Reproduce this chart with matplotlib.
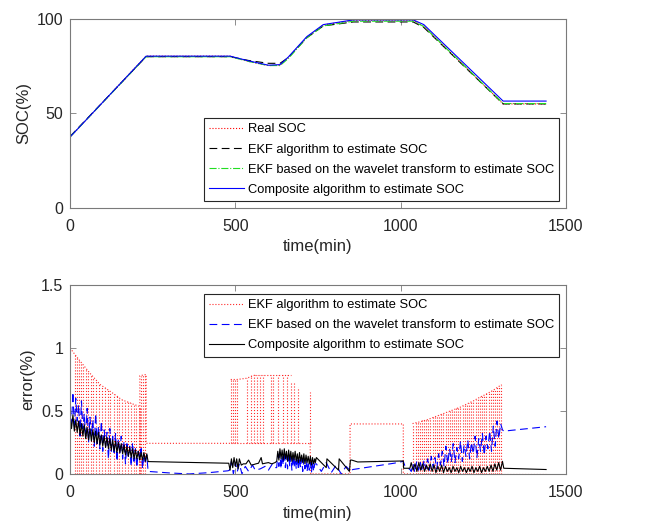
import numpy as np
import matplotlib
matplotlib.use("Agg")
import matplotlib.pyplot as plt

plt.rcParams['font.family'] = ['Liberation Sans', 'DejaVu Sans']

# ---------------- top panel data (SOC, %) ----------------
t_soc = [0, 230, 484, 540, 600, 635, 660, 716, 766, 857, 1038, 1070, 1310, 1440]
soc_real = [37.5, 80.3, 80.3, 77.5, 75.3, 75.5, 79.5, 90.3, 96.8, 99.3, 99.3, 96.0, 55.0, 55.0]
soc_ekf = [37.8, 80.0, 80.0, 78.0, 76.5, 76.5, 79.5, 90.0, 96.3, 98.4, 98.4, 95.5, 55.0, 55.0]
soc_wav = [37.5, 80.0, 80.0, 77.5, 75.3, 75.3, 79.0, 90.0, 96.3, 98.8, 98.8, 96.0, 55.2, 55.2]
soc_comp = [37.5, 80.3, 80.3, 77.8, 75.5, 75.8, 79.8, 90.6, 97.0, 99.5, 99.5, 97.0, 56.5, 56.5]

# ---------------- bottom panel data (error, %) ----------------
# EKF error (red): envelopes, drop lines and plateau blocks
redA_env_t = [0, 20, 60, 91, 130, 156, 185, 211]
redA_env_v = [1.0, 0.93, 0.80, 0.71, 0.64, 0.59, 0.56, 0.535]
redA_drop_t = [14, 20, 27, 33, 40, 47, 55, 62, 70, 78, 88, 97, 106, 115, 122, 132,
               141, 148, 158, 167, 175, 184, 192, 200, 207, 211]
redA_drop_v = [0.95, 0.93, 0.90, 0.88, 0.855, 0.83, 0.81, 0.785, 0.76, 0.745, 0.72, 0.70,
               0.68, 0.665, 0.65, 0.635, 0.62, 0.605, 0.59, 0.58, 0.57, 0.56, 0.55, 0.54,
               0.535, 0.535]
redB_t = [211, 211, 230, 230, 486]
redB_v = [0.0, 0.78, 0.79, 0.243, 0.243]
redB_drop_t = [216, 221, 226]
redB_drop_v = [0.78, 0.785, 0.79]
redC_base_t = [486, 728]
redC_base_v = [0.243, 0.243]
redC_top_t = [486, 504, 534, 560, 645, 668]
redC_top_v = [0.75, 0.75, 0.76, 0.786, 0.786, 0.786]
redC_line_t = [486, 492, 498, 504, 534, 546, 556, 566, 575, 583, 607, 613, 630, 645,
               655, 668, 676, 690, 726]
redC_line_v = [0.75, 0.75, 0.75, 0.75, 0.76, 0.786, 0.786, 0.786, 0.786, 0.786, 0.786,
               0.786, 0.786, 0.786, 0.786, 0.73, 0.72, 0.69, 0.65]
redD_t = [726, 728, 847, 847, 1008, 1008, 1036]
redD_v = [0.243, 0.0, 0.0, 0.397, 0.397, 0.0, 0.0]
redE_env_t = [1036, 1060, 1080, 1100, 1120, 1140, 1160, 1180, 1200, 1220, 1240, 1260,
              1280, 1300, 1305]
redE_env_v = [0.40, 0.415, 0.43, 0.45, 0.47, 0.49, 0.51, 0.53, 0.555, 0.58, 0.61,
              0.635, 0.665, 0.70, 0.71]
redE_drop_t = [1036, 1045, 1051, 1058, 1064, 1071, 1077, 1084, 1090, 1097, 1103, 1110,
               1116, 1123, 1129, 1136, 1142, 1149, 1155, 1162, 1168, 1175, 1181, 1188,
               1194, 1201, 1207, 1214, 1220, 1227, 1233, 1240, 1246, 1253, 1259, 1266,
               1272, 1279, 1285, 1292, 1298, 1305]
redE_drop_v = [0.40, 0.41, 0.415, 0.42, 0.425, 0.43, 0.435, 0.44, 0.445, 0.45, 0.455,
               0.46, 0.465, 0.475, 0.48, 0.49, 0.495, 0.50, 0.505, 0.51, 0.52, 0.525,
               0.53, 0.54, 0.55, 0.555, 0.565, 0.57, 0.58, 0.59, 0.60, 0.61, 0.62,
               0.63, 0.64, 0.65, 0.66, 0.665, 0.675, 0.69, 0.70, 0.71]
redF_t = [1305, 1440]
redF_v = [0.0, 0.0]

# Wavelet-EKF error (blue)
blueA_v = [0.52, 0.40, 0.65, 0.35, 0.60, 0.42, 0.55, 0.30, 0.58, 0.36, 0.48, 0.28, 0.52,
           0.25, 0.45, 0.30, 0.43, 0.22, 0.48, 0.24, 0.38, 0.20, 0.42, 0.18, 0.35, 0.22,
           0.33, 0.12, 0.36, 0.18, 0.30, 0.15, 0.32, 0.10, 0.28, 0.16, 0.30, 0.12, 0.26,
           0.08, 0.24, 0.14, 0.22, 0.06, 0.25, 0.10, 0.20, 0.05, 0.18, 0.12, 0.22, 0.04,
           0.16, 0.08, 0.15]
blueB_t = [236, 300, 360, 420, 478]
blueB_v = [0.02, 0.008, 0.0, 0.01, 0.025]
blueC_t = [482, 488, 494, 500, 506, 512, 520, 530, 540, 552, 560, 575, 590, 600, 612, 622]
blueC_v = [0.03, 0.10, 0.0, 0.09, 0.02, 0.08, 0.0, 0.06, 0.02, 0.07, 0.03, 0.04, 0.06,
           0.03, 0.08, 0.05]
blueD_v = [0.05, 0.16, 0.06, 0.17, 0.04, 0.15, 0.07, 0.18, 0.05, 0.15, 0.04, 0.16, 0.06,
           0.14, 0.03, 0.15, 0.05, 0.13, 0.04, 0.14, 0.03, 0.13, 0.05, 0.12, 0.02, 0.12,
           0.04, 0.11, 0.02, 0.10, 0.03, 0.09, 0.01, 0.10, 0.02, 0.08]
blueE_t = [745, 760, 775, 790, 805, 820, 835, 850, 855, 980, 1008, 1012, 1030]
blueE_v = [0.08, 0.02, 0.09, 0.01, 0.07, 0.0, 0.06, 0.02, 0.035, 0.085, 0.10, 0.07, 0.03]
blueG_v = [0.02, 0.08, 0.01, 0.10, 0.03, 0.09, 0.02, 0.11, 0.04, 0.12, 0.03, 0.14, 0.05,
           0.13, 0.04, 0.16, 0.07, 0.18, 0.06, 0.22, 0.08, 0.20, 0.10, 0.24, 0.09, 0.21,
           0.12, 0.26, 0.10, 0.23, 0.14, 0.27, 0.12, 0.25, 0.16, 0.30, 0.13, 0.28, 0.18,
           0.32, 0.15, 0.30, 0.20, 0.34, 0.18, 0.38, 0.22, 0.42, 0.28, 0.40, 0.35]
blueH_t = [1312, 1440]
blueH_v = [0.34, 0.375]

# Composite error (black)
blkA_v = [0.45, 0.36, 0.47, 0.34, 0.43, 0.33, 0.42, 0.31, 0.40, 0.30, 0.39, 0.28, 0.37,
          0.27, 0.36, 0.26, 0.35, 0.25, 0.34, 0.24, 0.33, 0.23, 0.31, 0.22, 0.30, 0.21,
          0.29, 0.20, 0.28, 0.19, 0.27, 0.18, 0.26, 0.17, 0.25, 0.17, 0.24, 0.16, 0.23,
          0.15, 0.22, 0.14, 0.21, 0.13, 0.20, 0.12, 0.19, 0.12, 0.18, 0.11, 0.17, 0.11,
          0.17, 0.10, 0.16]
blkB_t = [236, 478, 480, 484, 488, 492, 496, 500, 504, 508, 512, 518, 524, 532, 540, 548,
          556, 562, 570, 578, 582, 590, 600, 610, 620]
blkB_v = [0.098, 0.085, 0.085, 0.03, 0.12, 0.05, 0.13, 0.06, 0.12, 0.04, 0.12, 0.07,
          0.08, 0.08, 0.11, 0.07, 0.075, 0.08, 0.085, 0.13, 0.08, 0.085, 0.09, 0.08, 0.09]
blkD_v = [0.10, 0.18, 0.11, 0.20, 0.12, 0.19, 0.11, 0.20, 0.12, 0.18, 0.10, 0.19, 0.11,
          0.18, 0.10, 0.17, 0.11, 0.18, 0.10, 0.16, 0.09, 0.17, 0.10, 0.15, 0.09, 0.16,
          0.08, 0.15, 0.09, 0.14, 0.08, 0.14, 0.07, 0.13, 0.08, 0.12]
blkE_t = [742, 745, 775, 777, 812, 814, 845, 848, 852, 870, 1008, 1009, 1028]
blkE_v = [0.09, 0.13, 0.05, 0.12, 0.03, 0.12, 0.02, 0.11, 0.11, 0.095, 0.103, 0.045, 0.045]
blkG_v = [0.09, 0.03, 0.08, 0.02, 0.09, 0.03, 0.08, 0.02, 0.07, 0.03, 0.08, 0.02, 0.07,
          0.01, 0.06, 0.02, 0.07, 0.01, 0.06, 0.02, 0.05, 0.01, 0.06, 0.02, 0.05, 0.01,
          0.06, 0.02, 0.05, 0.01, 0.05, 0.02, 0.06, 0.01, 0.05, 0.02, 0.06, 0.01, 0.05,
          0.02, 0.06, 0.02, 0.07, 0.02, 0.08, 0.03, 0.09, 0.03, 0.10]
blkH_t = [1312, 1440]
blkH_v = [0.045, 0.035]

# segment time spans for the densely sampled noisy stretches
spanA = (0, 232)
spanD = (625, 740)
spanG = (1032, 1308)

xticks = [0, 500, 1000, 1500]
top_yticks = [0, 50, 100]
bot_yticks = [0, 0.5, 1, 1.5]
bot_yticklabels = ['0', '0.5', '1', '1.5']

# ---------------- figure ----------------
fig = plt.figure(figsize=(6.49, 5.26), dpi=100)
ax1 = fig.add_axes([0.108, 0.605, 0.764, 0.359])
ax2 = fig.add_axes([0.108, 0.099, 0.764, 0.359])

TXT = '#262626'
SP = '#7a7a7a'
LW = 0.8
LEG_FS = 9.3


def style(ax):
    for s in ax.spines.values():
        s.set_color(SP)
        s.set_linewidth(0.8)
    ax.tick_params(direction='in', top=True, right=True, length=4, width=0.6,
                   color=SP, labelcolor=TXT, labelsize=11.5)
    ax.tick_params(axis='x', pad=8)
    ax.tick_params(axis='y', pad=5)
    ax.set_xlim(0, 1500)
    ax.set_xticks(xticks)
    ax.set_xticklabels([str(x) for x in xticks])
    ax.set_xlabel('time(min)', fontsize=12, color=TXT, labelpad=4)


def legend(ax, loc, anchor):
    leg = ax.legend(loc=loc, bbox_to_anchor=anchor, fontsize=LEG_FS,
                    frameon=True, fancybox=False, edgecolor=TXT, framealpha=1,
                    handlelength=2.7, handletextpad=0.3, labelspacing=0.62,
                    borderpad=0.4, borderaxespad=0)
    leg.get_frame().set_linewidth(0.8)
    for txt in leg.get_texts():
        txt.set_color('black')
    return leg


# top panel
ax1.plot(t_soc, soc_real, ':', color='red', lw=LW, label='Real SOC')
ax1.plot(t_soc, soc_ekf, color='black', lw=LW, dashes=(7, 4), label='EKF algorithm to estimate SOC')
ax1.plot(t_soc, soc_wav, '-.', color='#22dd22', lw=LW,
         label='EKF based on the wavelet transform to estimate SOC')
ax1.plot(t_soc, soc_comp, '-', color='blue', lw=LW, label='Composite algorithm to estimate SOC')
ax1.set_ylim(0, 100)
ax1.set_yticks(top_yticks)
ax1.set_ylabel('SOC(%)', fontsize=12, color=TXT, labelpad=4)
style(ax1)
legend(ax1, 'lower right', (0.986, 0.037))

# bottom panel
RC = '#ff2a2a'
ax2.plot(redA_env_t, redA_env_v, ':', color=RC, lw=LW, label='EKF algorithm to estimate SOC')
ax2.vlines(redA_drop_t, 0, redA_drop_v, colors=RC, linestyles=':', lw=LW)
ax2.plot(redB_t, redB_v, ':', color=RC, lw=LW)
ax2.vlines(redB_drop_t, 0, redB_drop_v, colors=RC, linestyles=':', lw=LW)
ax2.plot(redC_base_t, redC_base_v, ':', color=RC, lw=LW)
ax2.plot(redC_top_t[:4], redC_top_v[:4], ':', color=RC, lw=LW)
ax2.plot(redC_top_t[3:], redC_top_v[3:], ':', color=RC, lw=LW)
ax2.vlines(redC_line_t, 0.243, redC_line_v, colors=RC, linestyles=':', lw=LW)
ax2.plot(redD_t, redD_v, ':', color=RC, lw=LW)
ax2.plot(redE_env_t, redE_env_v, ':', color=RC, lw=LW)
ax2.vlines(redE_drop_t, 0, redE_drop_v, colors=RC, linestyles=':', lw=LW)
ax2.plot(redF_t, redF_v, ':', color=RC, lw=LW)

blue_t = np.concatenate([np.linspace(*spanA, len(blueA_v)), blueB_t, blueC_t,
                         np.linspace(*spanD, len(blueD_v)), blueE_t,
                         np.linspace(*spanG, len(blueG_v)), blueH_t])
blue_v = np.concatenate([blueA_v, blueB_v, blueC_v, blueD_v, blueE_v, blueG_v, blueH_v])
ax2.plot(blue_t, blue_v, color='blue', lw=LW, dashes=(7, 4),
         label='EKF based on the wavelet transform to estimate SOC')

blk_t = np.concatenate([np.linspace(*spanA, len(blkA_v)), blkB_t,
                        np.linspace(*spanD, len(blkD_v)), blkE_t,
                        np.linspace(*spanG, len(blkG_v)), blkH_t])
blk_v = np.concatenate([blkA_v, blkB_v, blkD_v, blkE_v, blkG_v, blkH_v])
ax2.plot(blk_t, blk_v, '-', color='black', lw=LW, label='Composite algorithm to estimate SOC')

ax2.set_ylim(0, 1.5)
ax2.set_yticks(bot_yticks)
ax2.set_yticklabels(bot_yticklabels)
ax2.set_ylabel('error(%)', fontsize=12, color=TXT, labelpad=4)
style(ax2)
legend(ax2, 'upper right', (0.986, 0.952))

fig.savefig('out.png', dpi=100)
